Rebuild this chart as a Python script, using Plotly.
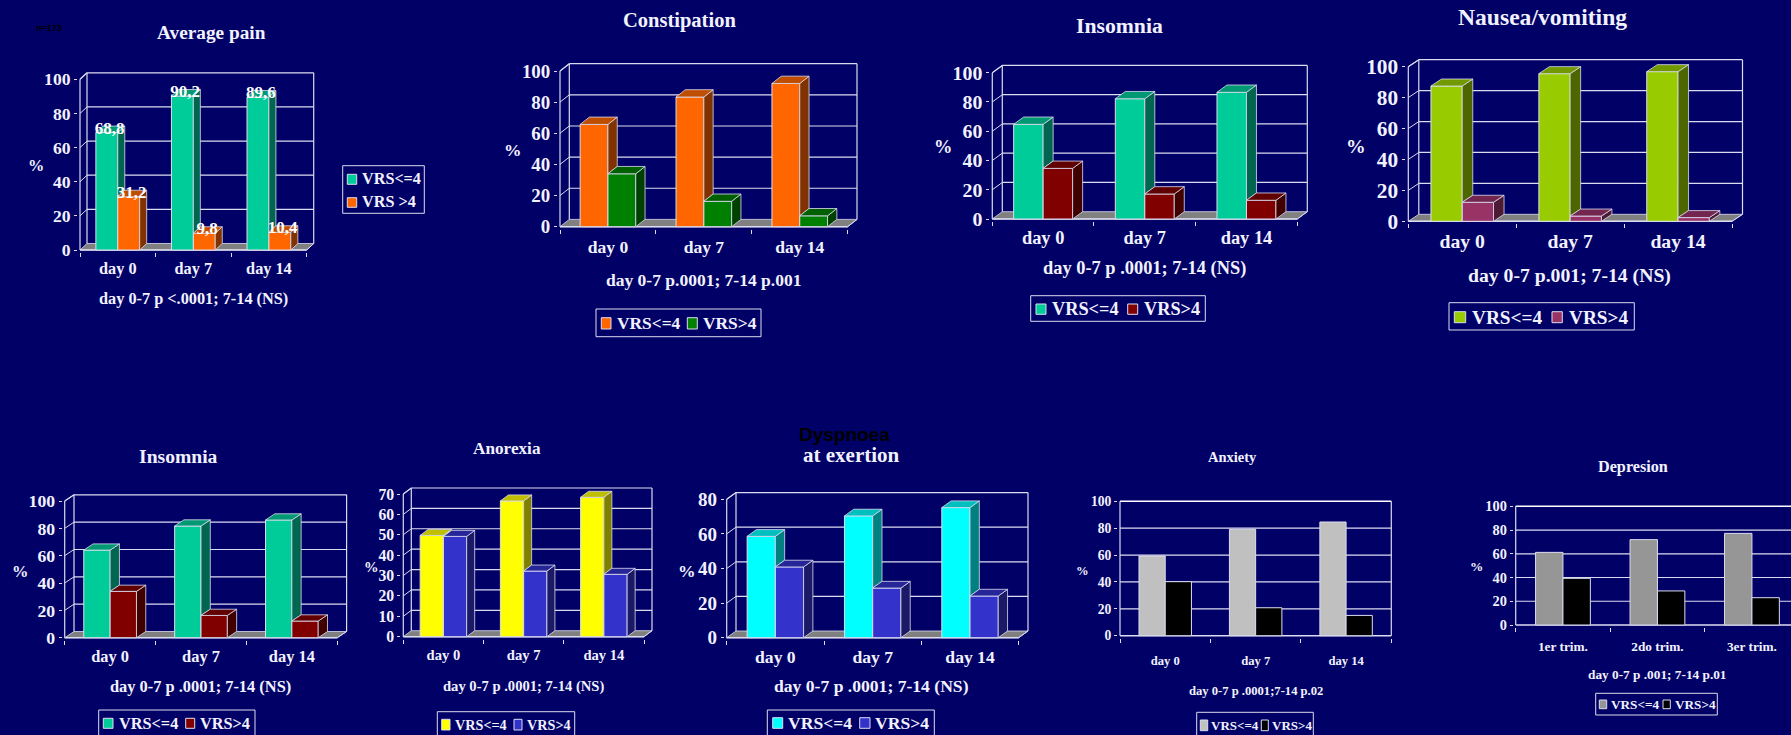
import plotly.graph_objects as go

WIDTH, HEIGHT = 1791, 735
BG = "#000066"
INK = "#F2F2FF"
EDGE = "#DCDCF0"
SERIF = "Liberation Serif"

days = ["day 0", "day 7", "day 14"]
trimesters = ["1er trim.", "2do trim.", "3er trim."]

pain_low = [68.8, 90.2, 89.6]
pain_high = [31.2, 9.8, 10.4]
constipation_low = [65.7, 83.3, 92.0]
constipation_high = [34.0, 16.3, 7.0]
insomnia_low = [64.7, 82.2, 86.6]
insomnia_high = [34.6, 17.1, 12.8]
nausea_low = [87.5, 95.5, 96.8]
nausea_high = [12.3, 3.4, 2.4]
insomnia2_low = [64.1, 81.7, 86.1]
insomnia2_high = [33.9, 16.3, 12.2]
anorexia_low = [49.7, 66.6, 68.4]
anorexia_high = [49.2, 32.2, 30.6]
dyspnoea_low = [58.6, 70.4, 75.2]
dyspnoea_high = [40.9, 28.7, 24.1]
anxiety_low = [59.3, 79.2, 84.6]
anxiety_high = [40.2, 20.8, 15.1]
depression_low = [61.2, 71.9, 77.2]
depression_high = [39.3, 28.7, 23.0]

ticks_100 = [0, 20, 40, 60, 80, 100]
ticks_70 = [0, 10, 20, 30, 40, 50, 60, 70]
ticks_80 = [0, 20, 40, 60, 80]

# front / side / top shades for each bar colour
TEAL = ("#00CC99", "#006650", "#009973")
ORANGE = ("#FF6600", "#803300", "#BF4D00")
GREEN = ("#008000", "#004000", "#006000")
MAROON = ("#800000", "#400000", "#600000")
LIME = ("#99CC00", "#4D6600", "#739900")
PLUM = ("#993366", "#4D1A33", "#732650")
YELLOW = ("#FFFF00", "#808000", "#BFBF00")
BLUE = ("#3333CC", "#1A1A66", "#262699")
CYAN = ("#00FFFF", "#008080", "#00BFBF")
SILVER = ("#C0C0C0",) * 3
GREY = ("#969696",) * 3
BLACK = ("#000000",) * 3

# Layout of each panel in page pixels: front plane box, depth of the 3-D wall,
# text sizes and centres, legend box, swatch and text positions.
panels = [
    dict(low=pain_low, high=pain_high, cats=days, ticks=ticks_100, c=(TEAL, ORANGE),
         box=(80, 306.7, 79.3, 250), depth=(7, 6.5), fs=16.3, labels=True,
         title="Average pain", tfs=19.3, tpos=(211.7, 33),
         sub="day 0-7 p <.0001; 7-14 (NS)", spos=(193.3, 298), pct=(35.7, 165.7), xlab=269,
         names=("VRS<=4", "VRS >4"), lbox=(342.7, 424.3, 165.7, 213.3),
         sw=[(347.3, 356.7, 174.3, 184.3), (347.3, 356.7, 197.7, 207.3)],
         txt=[(361.7, 179), (361.7, 202.5)], lfs=16.2),
    dict(low=constipation_low, high=constipation_high, cats=days, ticks=ticks_100, c=(ORANGE, GREEN),
         box=(560, 847.7, 71, 226.7), depth=(9.3, 7.3), fs=17.5,
         title="Constipation", tfs=20.5, tpos=(679.3, 20),
         sub="day 0-7 p.0001; 7-14 p.001", spos=(703, 280), pct=(512.7, 150), xlab=248,
         names=("VRS<=4", "VRS>4"), lbox=(596, 761, 309, 336.7),
         sw=[(601.3, 611, 317.7, 329), (687.3, 697.3, 317.7, 329)],
         txt=[(616.7, 323), (702.7, 323)], lfs=17.4),
    dict(low=insomnia_low, high=insomnia_high, cats=days, ticks=ticks_100, c=(TEAL, MAROON),
         box=(992.3, 1297.3, 72.7, 219), depth=(10, 7.3), fs=18.4,
         title="Insomnia", tfs=21.7, tpos=(1119.3, 25.7),
         sub="day 0-7 p .0001; 7-14 (NS)", spos=(1144.3, 268), pct=(942.7, 146.7), xlab=238,
         names=("VRS<=4", "VRS>4"), lbox=(1030.7, 1205.3, 295.7, 321.3),
         sw=[(1036, 1046, 304, 314.3), (1127.7, 1137.7, 304, 314.3)],
         txt=[(1052.3, 309), (1144.3, 309)], lfs=18.3),
    dict(low=nausea_low, high=nausea_high, cats=days, ticks=ticks_100, c=(LIME, PLUM),
         box=(1408.3, 1732, 66.7, 221.3), depth=(10.5, 7), fs=19.7,
         title="Nausea/vomiting", tfs=23.6, tpos=(1542, 17.3),
         sub="day 0-7 p.001; 7-14 (NS)", spos=(1569.3, 275), pct=(1355.7, 145.7), xlab=241.7,
         names=("VRS<=4", "VRS>4"), lbox=(1449, 1634.3, 302.7, 330),
         sw=[(1454.3, 1465.7, 311.7, 322.7), (1552, 1562.3, 311.7, 322.7)],
         txt=[(1472.3, 317), (1569, 317)], lfs=19.3),
    dict(low=insomnia2_low, high=insomnia2_high, cats=days, ticks=ticks_100, c=(TEAL, MAROON),
         box=(64.7, 337.3, 501, 637.7), depth=(9.3, 6.2), fs=16.4,
         title="Insomnia", tfs=19.6, tpos=(178.3, 456.7),
         sub="day 0-7 p .0001; 7-14 (NS)", spos=(200.3, 686), pct=(20, 571.7), xlab=657,
         names=("VRS<=4", "VRS>4"), lbox=(98.7, 255, 710, 738),
         sw=[(103.3, 113, 718.3, 728.3), (185.7, 194.7, 718.3, 728.3)],
         txt=[(119, 723.5), (200, 723.5)], lfs=16.3),
    dict(low=anorexia_low, high=anorexia_high, cats=days, ticks=ticks_70, c=(YELLOW, BLUE),
         box=(403.3, 644, 494, 636.7), depth=(8, 6), fs=14.6,
         title="Anorexia", tfs=17.2, tpos=(507, 448.3),
         sub="day 0-7 p .0001; 7-14 (NS)", spos=(523, 686), pct=(371.7, 567.3), xlab=655.7,
         names=("VRS<=4", "VRS>4"), lbox=(437.3, 574.7, 711.7, 738),
         sw=[(441.7, 450, 719.3, 730), (514, 522, 719.3, 730)],
         txt=[(455, 725), (526.7, 725)], lfs=14.2),
    dict(low=dyspnoea_low, high=dyspnoea_high, cats=days, ticks=ticks_80, c=(CYAN, BLUE),
         box=(726.7, 1018.7, 499.3, 637.7), depth=(9.3, 6.7), fs=17.6,
         title="at exertion", tfs=21, tpos=(851.7, 454.5),
         sub="day 0-7 p .0001; 7-14 (NS)", spos=(871.7, 686), pct=(687.3, 570.7), xlab=657.3,
         names=("VRS<=4", "VRS>4"), lbox=(767.3, 934.3, 710, 738),
         sw=[(772.7, 782.7, 717.7, 728.3), (859.7, 870, 717.7, 728.3)],
         txt=[(788.3, 723), (875, 723)], lfs=17.6),
    dict(low=anxiety_low, high=anxiety_high, cats=days, ticks=ticks_100, c=(SILVER, BLACK),
         box=(1120, 1391.3, 501.3, 635.7), depth=(0, 0), fs=12.6,
         title="Anxiety", tfs=14.5, tpos=(1232.7, 457.3),
         sub="day 0-7 p .0001;7-14 p.02", spos=(1256, 690.7), pct=(1082.7, 570.7), xlab=661.7,
         names=("VRS<=4", "VRS>4"), lbox=(1196.7, 1313.3, 712.3, 738),
         sw=[(1200.3, 1207.7, 720, 730.7), (1261.3, 1268.3, 720, 730.7)],
         txt=[(1210.7, 725), (1272.3, 725)], lfs=13),
    dict(low=depression_low, high=depression_high, cats=trimesters, ticks=ticks_100, c=(GREY, BLACK),
         box=(1515.7, 1799.2, 506.3, 625), depth=(0, 0), fs=13.3,
         title="Depresion", tfs=16.2, tpos=(1633.3, 466.7),
         sub="day 0-7 p .001; 7-14 p.01", spos=(1657.3, 674), pct=(1476, 566.7), xlab=647.3,
         names=("VRS<=4", "VRS>4"), lbox=(1595.7, 1717.3, 693.3, 715),
         sw=[(1599.3, 1606.7, 700, 708.7), (1663, 1670.3, 700, 708.7)],
         txt=[(1611, 704.5), (1674.7, 704.5)], lfs=13.2),
]

BAR_W = 0.29
PAD = 2  # px of slack so lines on the plot edge are not clipped


def px(x):
    return x / WIDTH


def py(y):
    return 1 - y / HEIGHT


def note(text, x, y, size, color=INK, family=SERIF, weight=700, anchor="center"):
    return dict(text=text, x=px(x), y=py(y), xref="paper", yref="paper", showarrow=False,
                xanchor=anchor, yanchor="middle", borderpad=0, borderwidth=0,
                font=dict(family=family, size=size, color=color, weight=weight))


def paper_rect(x0, x1, y0, y1, fill, line=EDGE, width=1):
    return dict(type="rect", xref="paper", yref="paper", x0=px(x0), x1=px(x1), y0=py(y0), y1=py(y1),
                fillcolor=fill, line=dict(color=line, width=width), layer="above")


fig = go.Figure()
shapes, notes, axes = [], [], {}

for i, p in enumerate(panels, start=1):
    left, right, top, base = p["box"]
    dx, dy = p["depth"]
    ymax = p["ticks"][-1]
    per_x = (right - left) / 3
    per_y = (base - top) / ymax
    ddx, ddy = dx / per_x, dy / per_y
    xa, ya = f"x{i}" if i > 1 else "x", f"y{i}" if i > 1 else "y"

    # Plot area spans the front plane plus the wall depth, cut at the page edge.
    page_right = min(right + dx + PAD, WIDTH)
    axes[f"xaxis{i if i > 1 else ''}"] = dict(
        domain=[px(left - PAD), px(page_right)],
        range=[-PAD / per_x, (page_right - left) / per_x],
        anchor=ya, showgrid=False, zeroline=False, showline=False,
        tickmode="array", tickvals=[0.5, 1.5, 2.5], ticktext=p["cats"],
        ticks="outside", tickcolor="rgba(0,0,0,0)",
        ticklen=max(p["xlab"] - base - p["fs"] * 0.9 - 3, 0),
        tickfont=dict(family=SERIF, size=p["fs"], color=INK, weight=700),
        minor=dict(tickmode="array", tickvals=[0, 1, 2, 3], ticks="outside", ticklen=4,
                   tickcolor=EDGE, tickwidth=1),
    )
    axes[f"yaxis{i if i > 1 else ''}"] = dict(
        domain=[py(base + PAD), py(top - dy - PAD)],
        range=[-PAD / per_y, ymax + ddy + PAD / per_y],
        anchor=xa, showgrid=False, zeroline=False, showline=False,
        tickmode="array", tickvals=p["ticks"], ticks="outside", ticklen=3,
        tickcolor=EDGE, tickwidth=1,
        tickfont=dict(family=SERIF, size=p["fs"] * 1.08, color=INK, weight=700),
    )

    def seg(x0, y0, x1, y1, width=1.2, color=EDGE):
        shapes.append(dict(type="line", xref=xa, yref=ya, x0=x0, y0=y0, x1=x1, y1=y1,
                           line=dict(color=color, width=width), layer="below"))

    # Floor, back wall and gridlines sit under the bars.
    if dx:
        shapes.append(dict(type="path", xref=xa, yref=ya, layer="below",
                           path=f"M0,0 L{ddx},{ddy} L{3 + ddx},{ddy} L3,0 Z",
                           fillcolor="#808080", line=dict(color=EDGE, width=0.8)))
        seg(0, 0, 0, ymax)
        seg(0, ymax, ddx, ymax + ddy)
    for v in p["ticks"]:
        if v:
            seg(ddx, v + ddy, 3 + ddx, v + ddy, width=1.6 if not dx and v == ymax else 1.2,
                color="#FFFFFF" if not dx and v == ymax else EDGE)
            if dx:
                seg(0, v, ddx, v + ddy, width=1)
    seg(ddx, ddy, ddx, ymax + ddy)
    seg(3 + ddx, ddy, 3 + ddx, ymax + ddy)
    seg(0, 0, 3, 0, width=1.5)
    if dx:
        seg(3, 0, 3 + ddx, ddy, width=1)

    series = [p["low"], p["high"]]
    for s, vals in enumerate(series):
        front, side, cap = p["c"][s]
        xs = [k + 0.5 + (s - 0.5) * BAR_W for k in range(3)]
        fig.add_trace(go.Bar(x=xs, y=vals, width=BAR_W, xaxis=xa, yaxis=ya, showlegend=False,
                             name=p["names"][s], marker=dict(color=front, line=dict(color=EDGE, width=1)),
                             hoverinfo="y"))
        if dx:
            sx, sy, tx, ty = [], [], [], []
            for k, (xc, v) in enumerate(zip(xs, vals)):
                x0, x1 = xc - BAR_W / 2, xc + BAR_W / 2
                # the neighbouring bar hides the lower part of the first bar's side
                lo = min(series[1][k], v) if s == 0 else 0
                sx += [x1, x1 + ddx, x1 + ddx, x1, x1, None]
                sy += [lo, lo + ddy, v + ddy, v, lo, None]
                tx += [x0, x1, x1 + ddx, x0 + ddx, x0, None]
                ty += [v, v, v + ddy, v + ddy, v, None]
            for fx, fy, col in ((sx, sy, side), (tx, ty, cap)):
                fig.add_trace(go.Scatter(x=fx, y=fy, xaxis=xa, yaxis=ya, mode="lines", fill="toself",
                                         fillcolor=col, line=dict(color=EDGE, width=0.8),
                                         showlegend=False, hoverinfo="skip"))
        if p.get("labels"):
            fig.add_trace(go.Scatter(x=[xc + ddx * 0.4 for xc in xs], y=[v + ddy * 0.5 for v in vals],
                                     xaxis=xa, yaxis=ya, mode="text",
                                     text=[str(v).replace(".", ",") for v in vals],
                                     textposition="middle center",
                                     textfont=dict(family=SERIF, size=17, color="#FFFFFF", weight=700),
                                     showlegend=False, hoverinfo="skip"))

    notes.append(note(p["title"], *p["tpos"], p["tfs"]))
    notes.append(note(p["sub"], *p["spos"], p["fs"]))
    notes.append(note("%", *p["pct"], p["fs"]))

    # Hand-placed legend box, as each chart keeps it tight round its two entries.
    lx0, lx1, ly0, ly1 = p["lbox"]
    shapes.append(paper_rect(lx0, lx1, ly0, ly1, "rgba(0,0,0,0)"))
    for s in range(2):
        x0, x1, y0, y1 = p["sw"][s]
        shapes.append(paper_rect(x0, x1, y0, y1, p["c"][s][0]))
        notes.append(note(p["names"][s], *p["txt"][s], p["lfs"], anchor="left"))

notes.append(note("Dyspnoea", 844.3, 434.5, 19, color="#000000", family="Liberation Sans"))
notes.append(note("n=173", 49, 28, 9, color="#000000", family="Liberation Sans"))

fig.update_layout(width=WIDTH, height=HEIGHT,
                  margin=dict(l=0, r=0, t=0, b=0, autoexpand=False), autosize=False,
                  paper_bgcolor=BG, plot_bgcolor="rgba(0,0,0,0)", barmode="overlay",
                  showlegend=False, shapes=shapes, annotations=notes, **axes)
fig.write_html("out.html")
